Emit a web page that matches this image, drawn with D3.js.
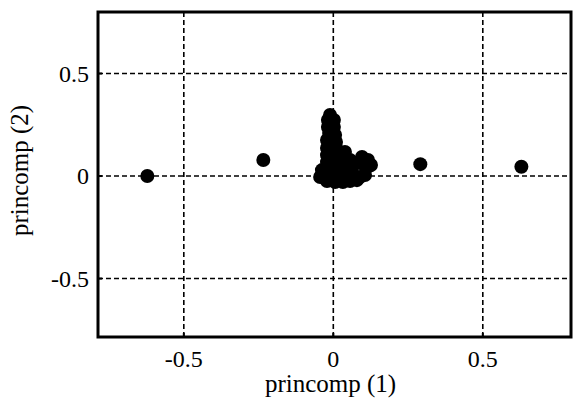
<!DOCTYPE html>
<html lang="en">
<head>
    <meta charset="UTF-8">
    <title>princomp</title>
    <script src="https://d3js.org/d3.v7.min.js"></script>
    <style>
        body {
            margin: 0;
            padding: 0;
            background: #fff;
        }
        svg {
            display: block;
            font-family: "Liberation Serif", "Times New Roman", serif;
        }
        .grid line {
            stroke: #000;
            stroke-width: 1.6px;
            stroke-dasharray: 5 3;
        }
        .tick-label {
            font-size: 24px;
            fill: #000;
        }
        .axis-title {
            font-size: 25px;
            fill: #000;
        }
    </style>
</head>
<body>
    <svg width="573" height="399"></svg>

    <script>
        // princomp (1) / princomp (2) scores
        const pc1 = [
            -0.622, -0.234, 0.291, 0.629,
            -0.011, -0.018, 0.002, -0.018, 0.002, -0.014, 0.006, -0.021, 0.009, -0.001,
            -0.021, 0.009, 0.039, 0.022,
            -0.021, -0.001, -0.021, 0.006, 0.032, 0.056, 0.073,
            0.096, 0.116, 0.126, 0.099, 0.119,
            -0.038, -0.011, 0.016, 0.042, 0.062,
            -0.044, -0.018, 0.009, 0.036, 0.062, 0.089, 0.106,
            -0.021, 0.006, 0.032, 0.056, 0.079, 0.022
        ];
        const pc2 = [
            0.000, 0.078, 0.058, 0.045,
            0.298, 0.273, 0.273, 0.239, 0.239, 0.210, 0.200, 0.176, 0.166, 0.224,
            0.137, 0.137, 0.117, 0.102,
            0.102, 0.102, 0.068, 0.068, 0.078, 0.078, 0.063,
            0.093, 0.078, 0.054, 0.059, 0.049,
            0.029, 0.029, 0.039, 0.039, 0.029,
            -0.005, -0.005, 0.000, 0.005, -0.005, -0.005, 0.005,
            -0.024, -0.029, -0.029, -0.024, -0.020, -0.010
        ];
        const xTicks = [-0.5, 0, 0.5];
        const yTicks = [-0.5, 0, 0.5];
        const xTickLabels = ["-0.5", "0", "0.5"];
        const yTickLabels = ["-0.5", "0", "0.5"];

        const points = pc1.map((v, i) => ({ x: v, y: pc2[i] }));

        const margin = { top: 12, right: 2, bottom: 62, left: 98 };
        const width = 573 - margin.left - margin.right;
        const height = 399 - margin.top - margin.bottom;

        const svg = d3.select("svg")
            .append("g")
            .attr("transform", `translate(${margin.left},${margin.top})`);

        const x = d3.scaleLinear()
            .domain([-0.787, 0.795])
            .range([0, width]);

        const y = d3.scaleLinear()
            .domain([-0.785, 0.8])
            .range([height, 0]);

        // dashed grid
        const grid = svg.append("g").attr("class", "grid");
        grid.selectAll(".gx")
            .data(xTicks)
            .enter()
            .append("line")
            .attr("x1", d => x(d)).attr("x2", d => x(d))
            .attr("y1", 0).attr("y2", height);
        grid.selectAll(".gy")
            .data(yTicks)
            .enter()
            .append("line")
            .attr("x1", 0).attr("x2", width)
            .attr("y1", d => y(d)).attr("y2", d => y(d));

        // points
        svg.selectAll(".dot")
            .data(points)
            .enter()
            .append("circle")
            .attr("class", "dot")
            .attr("cx", d => x(d.x))
            .attr("cy", d => y(d.y))
            .attr("r", 7)
            .attr("fill", "#000");

        // small inward ticks
        svg.selectAll(".tx")
            .data(xTicks)
            .enter()
            .append("line")
            .attr("x1", d => x(d)).attr("x2", d => x(d))
            .attr("y1", height).attr("y2", height - 4)
            .attr("stroke", "#000").attr("stroke-width", 2);
        svg.selectAll(".ty")
            .data(yTicks)
            .enter()
            .append("line")
            .attr("x1", 0).attr("x2", 4)
            .attr("y1", d => y(d)).attr("y2", d => y(d))
            .attr("stroke", "#000").attr("stroke-width", 2);

        // frame
        svg.append("rect")
            .attr("x", 0).attr("y", 0)
            .attr("width", width).attr("height", height)
            .attr("fill", "none")
            .attr("stroke", "#000")
            .attr("stroke-width", 3);

        // tick labels
        svg.selectAll(".xl")
            .data(xTicks)
            .enter()
            .append("text")
            .attr("class", "tick-label")
            .attr("x", d => x(d))
            .attr("y", height + 30)
            .attr("text-anchor", "middle")
            .text((d, i) => xTickLabels[i]);
        svg.selectAll(".yl")
            .data(yTicks)
            .enter()
            .append("text")
            .attr("class", "tick-label")
            .attr("x", -9)
            .attr("y", d => y(d))
            .attr("dy", "0.35em")
            .attr("text-anchor", "end")
            .text((d, i) => yTickLabels[i]);

        // axis titles
        svg.append("text")
            .attr("class", "axis-title")
            .attr("x", width / 2 - 4)
            .attr("y", height + 55)
            .attr("text-anchor", "middle")
            .text("princomp (1)");
        svg.append("text")
            .attr("class", "axis-title")
            .attr("transform", `translate(${-70},${height / 2 - 4}) rotate(-90)`)
            .attr("text-anchor", "middle")
            .text("princomp (2)");
    </script>
</body>
</html>
